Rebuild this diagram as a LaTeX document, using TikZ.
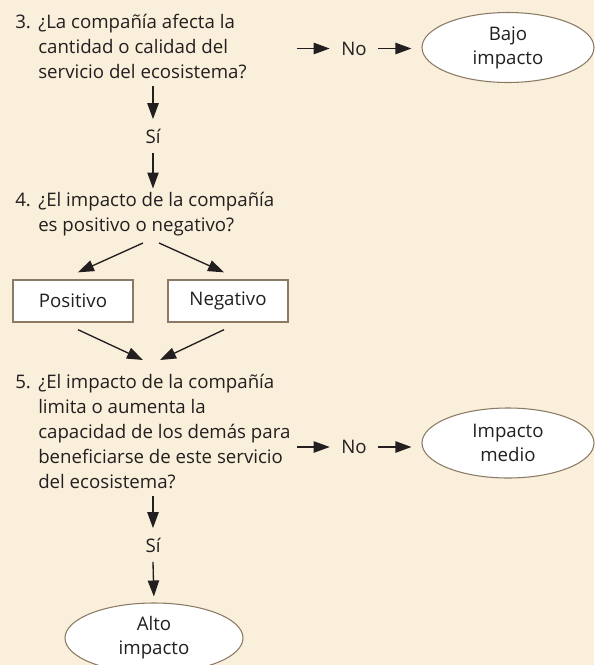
\documentclass[tikz,border=0pt]{standalone}
\usepackage{fontspec}
\setmainfont{Open Sans}
\usetikzlibrary{arrows.meta,shapes.geometric}
\definecolor{bgc}{HTML}{FAEFDA}
\definecolor{ink}{HTML}{231F20}
\definecolor{edgec}{HTML}{8B7B66}
\begin{document}
\begin{tikzpicture}[x=0.75pt,y=-0.75pt,
  font=\fontsize{14}{18.75}\selectfont,
  every node/.style={text=ink},
  quest/.style={anchor=north west, inner sep=0pt},
  lbl/.style={inner xsep=8.5pt, inner ysep=7pt},
  box/.style={draw=edgec, fill=white, line width=1pt, minimum width=90pt, minimum height=31.5pt, inner sep=0pt},
  oval/.style={ellipse, draw=edgec, fill=white, line width=0.8pt, inner sep=0pt, align=center,
     minimum width=129pt, minimum height=52.5pt, font=\fontsize{14}{18}\selectfont},
  arr/.style={-{Triangle[length=12pt,width=8.5pt]}, line width=1pt, draw=ink}]
\fill[bgc] (0,0) rectangle (594,665);
\useasboundingbox (0,0) rectangle (594,665);

% questions
\node[quest] (q3) at (15,10.5) {\begin{tabular}{@{}l@{}l@{}}\makebox[17.25pt][l]{3.}&¿La compañía afecta la\\&cantidad o calidad del\\&servicio del ecosistema?\end{tabular}};
\node[quest] (q4) at (15,188.5) {\begin{tabular}{@{}l@{}l@{}}\makebox[17.25pt][l]{4.}&¿El impacto de la compañía\\&es positivo o negativo?\end{tabular}};
\node[quest] (q5) at (15,370.5) {\begin{tabular}{@{}l@{}l@{}}\makebox[17.25pt][l]{5.}&¿El impacto de la compañía\\&limita o aumenta la\\&capacidad de los demás para\\&beneficiarse de este servicio\\&del ecosistema?\end{tabular}};

% labels
\node[lbl] (si1) at (153,136) {Sí};
\node[lbl] (si2) at (153,545) {Sí};
\node[lbl] (no1) at (354,48.5) {No};
\node[lbl] (no2) at (354,447) {No};

% boxes
\node[box] (pos) at (73,301) {Positivo};
\node[box] (neg) at (228,301) {Negativo};

% ellipses
\node[oval] (bajo) at (508,47.5) {Bajo\\impacto};
\node[oval] (medio) at (508,443) {Impacto\\medio};
\node[oval, minimum width=133.5pt] (alto) at (154,638) {Alto\\impacto};

% coordinates
\coordinate (n1s) at (297,48.5);
\coordinate (n2s) at (297,447);
\coordinate (q4l) at (143,243);
\coordinate (q4r) at (159,243);
\coordinate (q5l) at (143,360);
\coordinate (q5r) at (160,360);

% connectors
\draw[arr] (q3.south -| si1) -- (si1.north);
\draw[arr] (si1.south) -- (q4.north -| si1);
\draw[arr] (n1s) -- (no1.west);
\draw[arr, shorten >=7.5pt] (no1.east) -- (no1.east -| bajo.west);
\draw[arr] (q4l) -- ([shift={(5,-7)}]pos.north);
\draw[arr] (q4r) -- ([shift={(-4,-7)}]neg.north);
\draw[arr] ([shift={(5,7)}]pos.south) -- (q5l);
\draw[arr] ([shift={(-4,7)}]neg.south) -- (q5r);
\draw[arr] (q5.south -| si2) -- (si2.north);
\draw[arr, shorten >=4.5pt] (si2.south) -- (alto.north);
\draw[arr] (n2s) -- (no2.west);
\draw[arr, shorten >=7.5pt] (no2.east) -- (no2.east -| medio.west);
\end{tikzpicture}
\end{document}
